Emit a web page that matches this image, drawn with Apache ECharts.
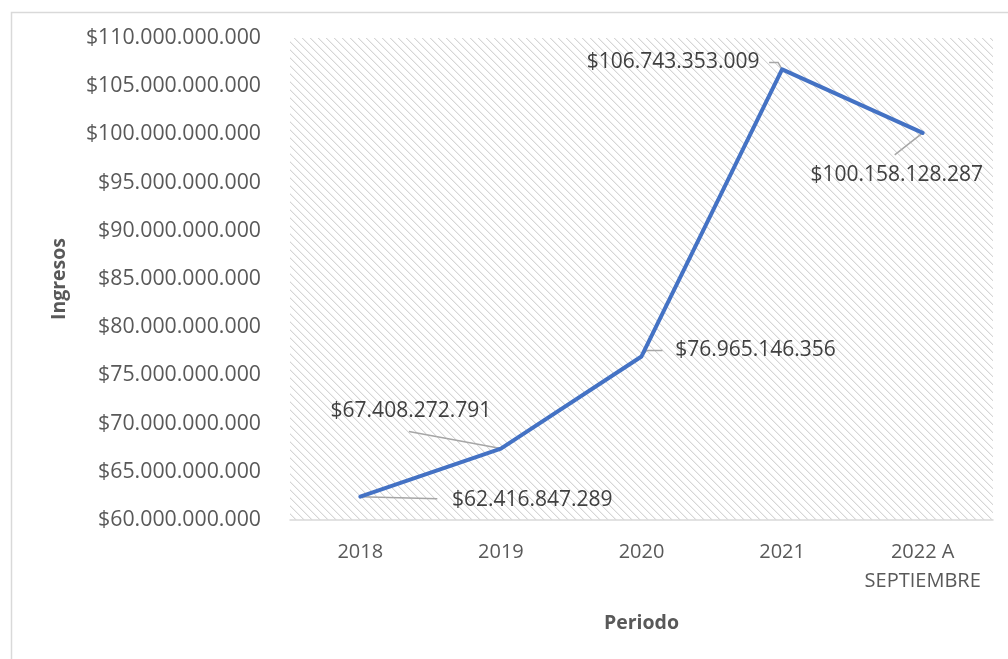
<!DOCTYPE html>
<html>
<head>
<meta charset="utf-8">
<script src="https://cdn.jsdelivr.net/npm/echarts@6/dist/echarts.min.js"></script>
<style>
  html, body { margin: 0; padding: 0; background: #ffffff; }
  #chart { width: 1008px; height: 659px; }
</style>
</head>
<body>
<div id="chart"></div>
<script>
// Periods and yearly revenue (pesos)
const periodos = ['2018', '2019', '2020', '2021', '2022 A\nSEPTIEMBRE'];
const ingresos = [62416847289, 67408272791, 76965146356, 106743353009, 100158128287];

// Value axis range
const yMin = 60000000000;
const yMax = 110000000000;
const yStep = 5000000000;

// Label offsets (px) from each point to the centre of its value label
const labelDx = [172, -90, 114, -109, -26];
const labelDy = [3, -38, -6, -7, 42];

// Leader line vertices (px) relative to each point
const leaders = [
  [[0, 0], [77, 2]],
  [[0, 0], [-92, -17]],
  [[0, 0], [5, -6], [21, -6]],
  [[0, 0], [-4, -7], [-13, -7]],
  [[0, 0], [-28, 22]]
];

function pesos(v) {
  return '$' + String(Math.round(v)).replace(/\B(?=(\d{3})+(?!\d))/g, '.');
}

// Light downward-diagonal hatch for the plot background
function hatch() {
  const c = document.createElement('canvas');
  c.width = 8; c.height = 8;
  const g = c.getContext('2d');
  g.fillStyle = '#ffffff';
  g.fillRect(0, 0, 8, 8);
  for (let i = 0; i < 8; i++) {
    g.fillStyle = '#d6d6d6';
    g.fillRect(i, i, 1, 1);
    g.fillStyle = '#f0f0f0';
    g.fillRect((i + 1) % 8, i, 1, 1);
  }
  return c;
}

const font = '"Open Sans", "Liberation Sans", sans-serif';
const chart = echarts.init(document.getElementById('chart'), null, { renderer: 'canvas' });

chart.setOption({
  animation: false,
  backgroundColor: '#ffffff',
  graphic: [{
    id: 'frame',
    type: 'rect',
    left: 9, top: 10,
    shape: { width: 1010, height: 660 },
    style: { fill: 'none', stroke: '#d9d9d9', lineWidth: 1.5 },
    z: -10
  }],
  grid: {
    left: 290, right: 15, top: 38, bottom: 139,
    show: true,
    borderWidth: 0,
    backgroundColor: { image: hatch(), repeat: 'repeat' }
  },
  xAxis: {
    type: 'category',
    data: periodos,
    boundaryGap: true,
    name: 'Periodo',
    nameLocation: 'middle',
    nameGap: 93,
    nameTextStyle: { fontFamily: font, fontSize: 19.5, fontWeight: 'bold', color: '#595959' },
    axisLine: { lineStyle: { color: '#d9d9d9', width: 1.5 } },
    axisTick: { show: false },
    axisLabel: {
      fontFamily: font, fontSize: 20, color: '#595959',
      margin: 18, lineHeight: 29, interval: 0
    },
    splitLine: { show: false }
  },
  yAxis: {
    type: 'value',
    min: yMin, max: yMax, interval: yStep,
    name: 'Ingresos',
    nameLocation: 'middle',
    nameRotate: 90,
    nameGap: 221,
    nameTextStyle: { fontFamily: font, fontSize: 19.5, fontWeight: 'bold', color: '#595959' },
    axisLine: { show: false },
    axisTick: { show: false },
    axisLabel: {
      fontFamily: font, fontSize: 21.3, color: '#595959', margin: 29,
      formatter: pesos
    },
    splitLine: { show: false }
  },
  series: [{
    type: 'line',
    data: ingresos,
    smooth: false,
    showSymbol: true,
    symbol: 'circle',
    symbolSize: 2,
    itemStyle: { color: '#4472C4' },
    lineStyle: { color: '#4472C4', width: 4, cap: 'round', join: 'round' },
    label: {
      show: true,
      position: 'inside',
      fontFamily: font,
      fontSize: 21,
      color: '#404040',
      formatter: p => pesos(p.value)
    },
    labelLayout: p => ({ dx: labelDx[p.dataIndex], dy: labelDy[p.dataIndex] })
  }]
});

// Leader lines from each point towards its label, placed through the chart's own scales
const leaderGraphics = ingresos.map((v, i) => {
  const [px, py] = chart.convertToPixel({ seriesIndex: 0 }, [i, v]);
  return {
    id: 'leader' + i,
    type: 'polyline',
    shape: { points: leaders[i].map(([dx, dy]) => [px + dx, py + dy]) },
    style: { fill: 'none', stroke: '#a6a6a6', lineWidth: 1.5 },
    z: 1
  };
});
chart.setOption({ graphic: leaderGraphics });
</script>
</body>
</html>
